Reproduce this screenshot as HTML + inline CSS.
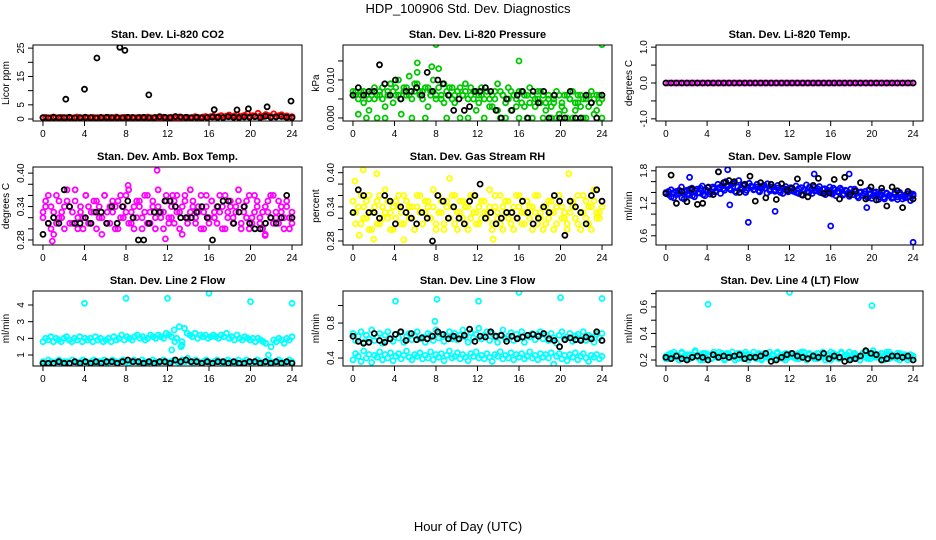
<!DOCTYPE html>
<html><head><meta charset="utf-8"><style>
html,body{margin:0;padding:0;background:#fff}
svg{display:block;font-family:"Liberation Sans",Arial,sans-serif}
</style></head><body>
<svg id="chart" width="936" height="540" viewBox="0 0 936 540" xmlns="http://www.w3.org/2000/svg">
<rect x="0" y="0" width="936" height="540" fill="#fff"/>
<text x="468" y="13" text-anchor="middle" font-size="13">HDP_100906  Std. Dev. Diagnostics</text>
<text x="468" y="531" text-anchor="middle" font-size="13">Hour of Day (UTC)</text>
</svg>
<script>
const xTicks=[0,4,8,12,16,20,24];
const xTickLabels=['0','4','8','12','16','20','24'];

const co2Red=[0.5,0.6,0.4,0.5,0.7,0.5,0.4,0.6,0.5,0.5,0.6,0.4,0.5,0.7,0.5,0.4,0.6,0.5,0.5,0.6,0.4,0.5,0.6,0.5,
0.4,0.6,0.5,0.5,0.7,0.4,0.5,0.6,0.5,0.4,0.6,0.5,0.5,0.6,0.4,0.5,0.7,0.5,0.4,0.6,0.5,0.5,0.6,0.4,
0.5,0.6,0.5,0.4,0.7,0.5,0.5,0.6,0.4,0.5,0.8,0.6,0.5,0.7,0.9,0.6,0.8,1.0,0.7,0.9,1.2,0.8,1.0,1.4,
0.9,1.1,1.5,0.8,1.0,1.3,1.9,0.9,1.2,1.0,2.0,1.1,0.8,1.6,1.2,0.9,1.8,1.0,1.2,1.5,0.9,1.1,0.7,0.8];
const co2Black=[0.5,0.4,0.6,0.5,0.5,0.6,0.4,0.5,0.6,0.5,0.4,0.5,0.6,0.5,0.5,0.4,0.6,0.5,0.5,0.6,0.4,0.5,0.8,0.6,
0.5,0.9,0.7,0.6,0.5,0.6,0.4,0.5,0.7,0.6,0.5,0.8,0.6,0.5,0.7,0.6,0.8,0.5,1.0,0.6,0.7,0.9,0.6,0.5];
const co2OutHour=[2.2,4,5.2,7.4,7.9,10.2,16.5,18.7,19.8,21.6,23.9];
const co2OutVal=[7,10.5,21.5,25.3,24.2,8.5,3.3,3.2,3.6,4.3,6.3];

const presGreen=[7,6,1,7,4,6,2,7,5,0,6,8,3,7,9,4,6,10,1,8,6,11,5,9,
12,7,5,8,3,7,10,6,13,5,9,0,6,8,4,7,0,6,9,5,8,7,2,6,
8,0,7,5,3,7,9,0,6,4,8,2,6,5,0,7,3,6,8,0,5,7,4,6,
2,5,0,4,7,1,3,6,0,5,7,2,4,6,0,5,3,7,1,6,4,0];
const presGreen2=[6,7,5,6,7,0,5,6,8,6,7,5,0,6,9,7,8,6,5,7,8,6,0,7,
9,6,7,0,8,6,7,5,8,6,4,7,8,5,6,7,8,6,7,0,6,5,7,4,
6,5,7,3,6,5,2,7,6,0,5,7,6,3,7,4,6,0,4,6,3,5,7,0,
4,6,3,5,0,6,4,2,6,5,0,4,6,3,5,0,6,4,5,2,6,5];
const presBlack=[6,8,6,7,7,14,9,6,10,5,7,7,8,6,12,7,10,9,6,2,5,2,3,7,
7,8,7,2,0,5,2,6,7,0,7,4,7,0,6,0,0,7,0,0,6,4,0,6];
const presOutHour=[8,16,24,6.2,7.6];
const presOutVal=[19.3,15,19.3,14.5,13.5];

const tempMag=[0,0,0,0,0,0,0,0,0,0,0,0,0,0,0,0,0,0,0,0,0,0,0,0,0,0,0,0,0,0,0,0,0,0,0,0,0,0,0,0,0,0,0,0,0,0,0,0,
0,0,0,0,0,0,0,0,0,0,0,0,0,0,0,0,0,0,0,0,0,0,0,0,0,0,0,0,0,0,0,0,0,0,0,0,0,0,0,0,0,0,0,0,0,0,0,0];
const tempBlack=[0,0,0,0,0,0,0,0,0,0,0,0,0,0,0,0,0,0,0,0,0,0,0,0,0,0,0,0,0,0,0,0,0,0,0,0,0,0,0,0,0,0,0,0,0,0,0,0];

const ambMag=[33,35,31,34,29,36,32,33,30,35,34,31,37,32,33,30,36,34,31,33,35,32,29,36,
33,31,35,34,30,36,32,33,37,31,34,32,35,30,33,36,31,34,32,37,33,30,35,32,
34,31,36,33,29,35,32,37,34,31,33,36,30,34,32,35,33,31,36,34,30,33,35,32,
34,37,31,33,35,30,32,36,34,31,33,29,35,32,36,33,31,34,32,35,30,33];
const ambMag2=[32,34,36,30,33,31,35,32,34,37,31,33,35,30,34,32,36,31,33,35,30,34,32,36,
31,34,33,30,35,32,34,36,31,33,30,35,34,32,36,31,33,35,30,34,32,33,36,31,
32,35,33,30,34,36,31,33,35,32,34,30,33,36,31,35,32,34,33,30,36,32,34,31,
33,35,30,34,32,36,31,33,35,32,30,34,33,36,31,32,35,33,30,34,32,31];
const ambBlack=[29,31,32,31,37,34,31,31,32,31,33,33,31,34,31,34,35,32,28,28,31,33,33,35,
35,34,32,32,32,33,34,32,28,34,35,35,31,33,34,31,30,30,31,32,31,32,36,32];
const ambOutHour=[11,8.2,12.5,11.8,0.9,21.4];
const ambOutVal=[40.5,37.8,36,28.2,27.8,28.8];

const rhYel=[35,33,37,31,34,32,36,30,33,35,31,34,37,32,33,30,35,34,31,36,33,32,34,30,
36,33,31,35,34,32,37,31,33,35,30,34,32,36,31,33,35,32,34,30,36,33,31,34,
32,35,33,37,31,34,32,36,30,33,35,31,34,32,36,33,31,35,34,30,33,36,32,34,
31,35,33,30,34,36,32,33,31,35,34,32,36,30,33,35,31,34,37,32,33,34];
const rhYel2=[33,31,34,36,32,35,30,33,34,31,36,32,33,35,30,34,32,36,33,31,35,34,32,30,
34,36,31,33,35,32,34,30,36,33,31,35,32,34,36,30,33,35,31,34,32,36,33,31,
35,33,32,34,30,36,33,31,34,35,32,33,30,36,34,31,33,35,32,34,36,31,33,30,
34,32,35,33,31,36,34,32,30,33,35,34,31,33,36,32,34,30,35,33,32,34];
const rhBlack=[33,37,36,33,33,32,36,35,31,34,33,32,31,33,32,28,36,35,32,34,32,31,35,36,
38,32,33,31,32,33,33,32,35,33,31,32,34,33,36,35,29,35,34,33,31,36,37,35];
const rhOutHour=[1,2.3,0.2,9.3,20.8,2,4.9,13.5,0.6];
const rhOutVal=[40.5,39.8,38.5,39,39.8,28.3,28.2,28.3,29];

const flowBlue=[140,136,145,130,142,138,150,128,144,135,148,132,146,139,152,134,143,137,150,141,155,138,147,160,
152,145,158,140,162,149,153,144,157,150,146,155,141,152,148,156,143,150,145,153,140,148,151,144,
147,142,152,138,149,145,154,140,146,150,143,151,139,147,142,150,137,145,141,148,135,144,139,146,
136,143,130,141,138,133,145,129,140,136,132,142,128,138,134,131,140,127,136,133,130,138,125,137];
const flowBlue2=[138,142,132,140,136,144,130,141,137,146,134,143,139,148,136,145,150,140,147,143,149,152,144,151,
147,156,142,150,146,154,140,148,152,145,150,143,147,153,139,146,150,142,148,144,138,146,141,149,
144,140,147,136,145,141,150,138,143,147,140,146,136,144,139,148,134,142,145,137,143,133,140,146,
133,140,135,142,130,138,134,141,127,136,131,139,135,129,137,132,140,128,135,131,138,134];
const flowBlack=[138,172,120,142,123,146,118,120,149,136,178,158,162,160,140,155,170,124,158,130,155,127,156,144,
148,165,135,132,153,166,138,139,164,128,168,136,142,158,128,150,126,148,115,150,143,112,142,128];
const flowOutHour=[8,16,24,10.6,19.5,6,5.1,17.8,14.4,2.3,6.2];
const flowOutVal=[85,78,48,105,112,182,178,174,174,168,117];

const l2Cyan=[1.8,2.0,1.9,2.1,1.8,2.0,1.9,1.8,2.0,2.1,1.9,1.8,2.0,1.9,2.1,1.8,2.0,1.9,2.0,1.8,2.1,1.9,2.0,1.8,
1.9,2.0,1.8,2.1,1.9,2.0,2.2,1.9,2.1,2.0,1.9,2.1,2.2,2.0,2.1,1.9,2.0,2.2,2.1,2.0,2.2,2.1,2.0,2.3,
2.2,2.1,2.5,2.0,2.7,1.8,2.6,2.3,2.2,2.1,2.3,2.0,2.2,2.1,2.2,2.0,2.1,2.2,2.1,2.0,2.2,2.1,2.3,2.0,
2.1,1.9,2.2,2.0,1.9,2.1,2.0,1.9,2.0,1.8,2.0,1.9,1.8,1.7,1.0,1.5,1.9,1.8,2.0,1.9,1.7,2.0,1.9,2.1];
const l2Cyan2=[0.6,0.5,0.7,0.6,0.5,0.6,0.7,0.5,0.6,0.6,0.5,0.7,0.6,0.5,0.6,0.7,0.6,0.5,0.6,0.7,0.5,0.6,0.6,0.7,
0.5,0.6,0.7,0.6,0.5,0.6,0.7,0.6,0.5,0.6,0.7,0.6,0.5,0.7,0.6,0.5,0.6,0.7,0.6,0.5,0.6,0.7,0.6,0.5,
0.6,0.7,0.6,0.5,0.7,0.6,0.8,0.6,0.5,0.7,0.6,0.5,0.6,0.7,0.6,0.5,0.6,0.7,0.6,0.5,0.6,0.7,0.6,0.5,
0.6,0.7,0.5,0.6,0.7,0.6,0.5,0.6,0.7,0.6,0.5,0.6,0.7,0.6,0.5,0.6,0.7,0.6,0.5,0.6,0.7,0.6];
const l2Black=[0.5,0.5,0.5,0.6,0.5,0.5,0.6,0.5,0.6,0.5,0.6,0.5,0.6,0.6,0.5,0.6,0.7,0.6,0.6,0.5,0.6,0.5,0.6,0.6,
0.5,0.7,0.6,0.7,0.6,0.6,0.5,0.6,0.5,0.6,0.6,0.5,0.6,0.5,0.5,0.6,0.6,0.5,0.6,0.5,0.6,0.5,0.6,0.5];
const l2OutHour=[4,8,12,16,20,24,12.4,13.3,13.4,12.7];
const l2OutVal=[4.1,4.4,4.4,4.7,4.2,4.1,1.3,1.5,1.6,1.8];

const l3Cyan=[68,60,65,70,58,66,62,72,60,64,68,57,66,70,62,59,67,63,70,58,65,68,61,66,
70,62,64,58,68,66,60,72,63,67,59,65,70,62,68,61,66,72,64,58,69,63,67,74,
62,66,70,60,68,64,58,66,72,62,65,69,60,67,63,70,58,66,64,68,61,67,70,62,
66,60,68,63,57,66,70,62,64,68,59,65,67,62,70,60,66,64,58,67,63,68];
const l3Cyan2=[38,45,42,36,48,40,44,35,43,41,47,38,44,40,46,37,42,45,39,43,48,41,38,44,
42,46,39,43,40,47,38,44,41,45,37,43,48,40,42,46,39,44,41,37,45,42,47,40,
43,39,45,41,36,44,42,47,39,43,40,46,38,44,41,45,39,42,47,40,43,38,45,41,
44,40,46,33,42,45,39,43,37,44,41,46,38,42,45,40,36,43,41,44,39,42];
const l3Black=[65,59,57,58,68,60,58,62,67,70,60,68,61,63,62,65,70,67,62,65,62,66,73,59,
65,64,70,65,66,59,65,62,64,66,67,65,68,62,60,53,61,63,61,60,64,62,70,60];
const l3OutHour=[4.1,8.1,12.1,16,20,24,7.9];
const l3OutVal=[105,107,105,115,109,108,82];

const l4Cyan=[23,21,25,22,24,20,26,23,21,24,22,27,23,20,25,22,24,21,26,23,22,25,20,24,
22,26,23,21,25,22,24,20,23,26,22,24,21,25,23,22,24,20,26,23,21,25,22,24,
23,21,25,22,26,20,24,23,21,25,22,24,20,23,26,22,24,21,25,23,22,26,21,24,
23,20,25,22,24,21,27,23,22,25,20,24,26,22,23,21,25,24,22,20,24,23];
const l4Cyan2=[21,24,22,26,23,20,25,22,24,21,23,26,22,24,20,25,23,21,24,22,26,23,21,25,
24,22,20,25,23,21,26,24,22,23,21,25,20,24,22,26,23,21,25,22,24,20,23,25,
22,24,21,26,23,20,25,22,24,21,23,26,22,24,20,25,23,21,26,22,24,21,23,25,
22,20,24,26,21,23,25,22,24,20,23,26,21,24,22,25,20,23,24,22,21,22];
const l4Black=[22,21,23,21,20,22,23,22,20,24,22,23,22,23,24,21,22,22,23,25,19,20,22,24,
25,23,22,21,23,22,25,21,23,22,19,20,21,23,27,25,24,20,21,23,23,22,23,20];
const l4OutHour=[4.1,12,20];
const l4OutVal=[62,71,61];

const NS='http://www.w3.org/2000/svg';
const svg=document.getElementById('chart');
function mk(tag,attrs,parent){const e=document.createElementNS(NS,tag);for(const k in attrs)e.setAttribute(k,attrs[k]);(parent||svg).appendChild(e);return e;}

const panels=[
 {name:'co2',title:'Stan. Dev. Li-820 CO2',yt:'Licor ppm',col:0,row:0,ymin:-0.7,ymax:26.1,ticks:[0,5,10,15,20,25],labels:['0','5','','15','','25'],color:'#ff0000',series:[co2Red],black:co2Black,outH:co2OutHour,outV:co2OutVal,outC:'#000'},
 {name:'pressure',title:'Stan. Dev. Li-820 Pressure',yt:'kPa',col:1,row:0,ymin:-0.8,ymax:19.2,ticks:[0,5,10,15],labels:['0.000','','0.010',''],color:'#00c800',series:[presGreen,presGreen2],black:presBlack,outH:presOutHour,outV:presOutVal,outC:'#00c800'},
 {name:'temp',title:'Stan. Dev. Li-820 Temp.',yt:'degrees C',col:2,row:0,ymin:-1.06,ymax:1.06,ticks:[-1,-0.5,0,0.5,1],labels:['-1.0','','0.0','','1.0'],color:'#ff00ff',series:[tempMag],black:tempBlack,outH:[],outV:[],outC:'#000'},
 {name:'amb-box-temp',title:'Stan. Dev. Amb. Box Temp.',yt:'degrees C',col:0,row:1,ymin:27.1,ymax:41.1,ticks:[28,30,32,34,36,38,40],labels:['0.28','','','0.34','','','0.40'],color:'#ff00ff',series:[ambMag,ambMag2],black:ambBlack,outH:ambOutHour,outV:ambOutVal,outC:'#ff00ff'},
 {name:'gas-stream-rh',title:'Stan. Dev. Gas Stream RH',yt:'percent',col:1,row:1,ymin:27.3,ymax:41.0,ticks:[28,30,32,34,36,38,40],labels:['0.28','','','0.34','','','0.40'],color:'#ffff00',series:[rhYel,rhYel2],black:rhBlack,outH:rhOutHour,outV:rhOutVal,outC:'#ffff00'},
 {name:'sample-flow',title:'Stan. Dev. Sample Flow',yt:'ml/min',col:2,row:1,ymin:43,ymax:187,ticks:[60,80,100,120,140,160,180],labels:['0.6','','','1.2','','','1.8'],color:'#0000ff',series:[flowBlue,flowBlue2],black:flowBlack,outH:flowOutHour,outV:flowOutVal,outC:'#0000ff'},
 {name:'line2-flow',title:'Stan. Dev. Line 2 Flow',yt:'ml/min',col:0,row:2,ymin:0.34,ymax:4.84,ticks:[1,2,3,4],labels:['1','2','3','4'],color:'#00ffff',series:[l2Cyan,l2Cyan2],black:l2Black,outH:l2OutHour,outV:l2OutVal,outC:'#00ffff'},
 {name:'line3-flow',title:'Stan. Dev. Line 3 Flow',yt:'ml/min',col:1,row:2,ymin:30.9,ymax:116.6,ticks:[40,60,80,100],labels:['0.4','','0.8',''],color:'#00ffff',series:[l3Cyan,l3Cyan2],black:l3Black,outH:l3OutHour,outV:l3OutVal,outC:'#00ffff'},
 {name:'line4-flow',title:'Stan. Dev. Line 4 (LT) Flow',yt:'ml/min',col:2,row:2,ymin:15.5,ymax:72,ticks:[20,30,40,50,60,70],labels:['0.2','','0.4','','0.6',''],color:'#00ffff',series:[l4Cyan,l4Cyan2],black:l4Black,outH:l4OutHour,outV:l4OutVal,outC:'#00ffff'}
];
const colL=[33,343,656], colW=[269,269,267], rowT=[45,167,291], rowH=[76,78,75];

panels.forEach(p=>{
 const L=colL[p.col],W=colW[p.col],T=rowT[p.row],H=rowH[p.row];
 const g=mk('g',{});
 
 
 const xs=v=>L+(v+0.96)/25.92*W;
 const ys=v=>T+H-(v-p.ymin)/(p.ymax-p.ymin)*H;
 const clip=mk('clipPath',{id:'c-'+p.name},g);
 mk('rect',{x:L,y:T,width:W,height:H},clip);
 const t=mk('text',{x:L+W/2,y:T-7,'text-anchor':'middle','font-size':'11','font-weight':'bold'},g);
 t.textContent=p.title;
 
 
 const pts=mk('g',{'clip-path':'url(#c-'+p.name+')',fill:'none','stroke-width':'1.8'},g);
 
 
 function dot(h,v,c){const e=mk('circle',{cx:xs(h).toFixed(1),cy:ys(v).toFixed(1),r:'2.5',stroke:c},pts);
  
  }
 p.series.forEach(s=>s.forEach((v,i)=>dot(i*24/(s.length-1),v,p.color)));
 p.outH.forEach((h,i)=>dot(h,p.outV[i],p.outC));
 p.black.forEach((v,i)=>dot(i*24/(p.black.length-1),v,'#000'));
 const box=mk('rect',{x:L,y:T,width:W,height:H,fill:'none',stroke:'#000','stroke-width':'1'},g);
 
 
 const B=T+H;
 xTicks.forEach((v,i)=>{
  mk('line',{x1:xs(v),x2:xs(v),y1:B,y2:B+5,stroke:'#000'},g);
  const tl=mk('text',{x:xs(v),y:B+16,'text-anchor':'middle','font-size':'10'},g);
  tl.textContent=xTickLabels[i];
  
  
 });
 p.ticks.forEach((v,i)=>{
  const y=ys(v);
  mk('line',{x1:L-5,x2:L,y1:y,y2:y,stroke:'#000'},g);
  if(p.labels[i]){
   const tl=mk('text',{x:L-9,y:y,'text-anchor':'middle','font-size':'10',transform:'rotate(-90 '+(L-9)+' '+y+')'},g);
   tl.textContent=p.labels[i];
   
   
  }
 });
 const cy=T+H/2;
 const yt=mk('text',{x:L-24,y:cy,'text-anchor':'middle','font-size':'10',transform:'rotate(-90 '+(L-24)+' '+cy+')'},g);
 yt.textContent=p.yt;
 
 
});
</script>
</body></html>
